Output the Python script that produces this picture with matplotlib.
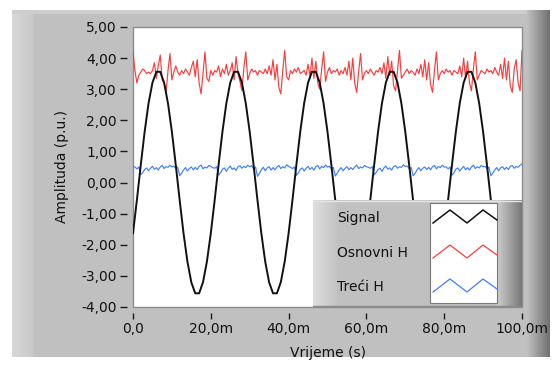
import numpy as np
import matplotlib
matplotlib.use("Agg")
import matplotlib.pyplot as plt
from matplotlib.patches import Rectangle

plt.rcParams['font.family'] = ['DejaVu Sans']

# ---- data -------------------------------------------------------------
# time axis in milliseconds
t_signal = np.arange(0, 101, 1.0)          # 1 ms sampling
t_harm = np.arange(0, 100.5, 0.5)          # 0.5 ms sampling

signal = [
    -1.63, -0.56, 0.57, 1.64, 2.55, 3.21, 3.56, 3.56, 3.21, 2.54,
    1.63, 0.56, -0.57, -1.64, -2.55, -3.21, -3.56, -3.56, -3.20, -2.54,
    -1.63, -0.56, 0.57, 1.64, 2.55, 3.21, 3.56, 3.56, 3.21, 2.54,
    1.63, 0.56, -0.57, -1.64, -2.55, -3.21, -3.56, -3.56, -3.20, -2.54,
    -1.63, -0.56, 0.57, 1.64, 2.55, 3.21, 3.56, 3.56, 3.21, 2.54,
    1.63, 0.56, -0.57, -1.64, -2.55, -3.21, -3.56, -3.56, -3.20, -2.54,
    -1.63, -0.56, 0.57, 1.64, 2.55, 3.21, 3.56, 3.56, 3.21, 2.54,
    1.63, 0.56, -0.57, -1.64, -2.55, -3.21, -3.56, -3.56, -3.20, -2.54,
    -1.63, -0.56, 0.57, 1.64, 2.55, 3.21, 3.56, 3.56, 3.21, 2.54,
    1.63, 0.56, -0.57, -1.64, -2.55, -3.21, -3.56, -3.56, -3.20, -2.54,
    -1.63,
]

osnovni_h = [
    4.20, 3.60, 3.20, 3.45, 3.55, 3.65, 3.60, 3.50, 3.55, 3.50,
    3.60, 3.85, 3.35, 3.75, 4.10, 3.30, 3.20, 2.90, 3.60, 4.15,
    3.30, 3.55, 3.75, 3.55, 3.45, 3.60, 3.50, 3.65, 3.55, 3.45,
    3.70, 3.90, 3.40, 3.95, 3.20, 2.85, 3.50, 4.20, 3.35, 3.25,
    3.60, 3.45, 3.60, 3.55, 3.75, 3.40, 3.65, 3.50, 3.80, 3.45,
    3.60, 3.85, 3.30, 4.05, 3.50, 3.25, 2.95, 3.70, 4.20, 3.30,
    3.50, 3.65, 3.55, 3.60, 3.45, 3.60, 3.55, 3.50, 3.65, 3.50,
    3.75, 3.45, 3.95, 3.30, 3.80, 3.05, 2.85, 3.60, 4.25, 3.40,
    3.30, 3.60, 3.50, 3.65, 3.55, 3.70, 3.50, 3.55, 3.60, 3.45,
    3.80, 3.40, 4.00, 3.35, 3.90, 3.20, 3.00, 3.65, 4.20, 3.25,
    3.55, 3.70, 3.50, 3.60, 3.55, 3.65, 3.45, 3.60, 3.50, 3.70,
    3.45, 3.90, 3.30, 4.00, 3.20, 2.90, 3.55, 4.15, 3.30, 3.50,
    3.60, 3.50, 3.65, 3.55, 3.45, 3.60, 3.55, 3.70, 3.50, 3.85,
    3.35, 4.05, 3.45, 3.90, 3.10, 2.95, 3.60, 4.25, 3.35, 3.45,
    3.55, 3.65, 3.50, 3.60, 3.55, 3.45, 3.65, 3.50, 3.80, 3.40,
    3.95, 3.30, 3.85, 3.15, 2.90, 3.60, 4.20, 3.30, 3.50, 3.60,
    3.50, 3.65, 3.55, 3.60, 3.45, 3.60, 3.55, 3.50, 3.75, 3.40,
    4.00, 3.35, 3.90, 3.20, 2.95, 3.65, 4.20, 3.30, 3.45, 3.60,
    3.55, 3.50, 3.65, 3.55, 3.60, 3.50, 3.70, 3.55, 3.45, 3.80,
    3.35, 4.00, 3.30, 3.90, 3.10, 2.90, 3.65, 3.95, 3.20, 2.95,
    4.25,
]

treci_h = [
    0.52, 0.50, 0.44, 0.50, 0.26, 0.32, 0.42, 0.47, 0.38, 0.46,
    0.52, 0.43, 0.48, 0.40, 0.50, 0.55, 0.45, 0.51, 0.49, 0.56,
    0.50, 0.53, 0.45, 0.49, 0.22, 0.30, 0.40, 0.48, 0.37, 0.45,
    0.50, 0.41, 0.49, 0.42, 0.52, 0.56, 0.44, 0.50, 0.47, 0.55,
    0.52, 0.48, 0.46, 0.51, 0.24, 0.31, 0.43, 0.47, 0.36, 0.46,
    0.53, 0.42, 0.47, 0.39, 0.51, 0.54, 0.46, 0.52, 0.48, 0.56,
    0.51, 0.54, 0.44, 0.50, 0.20, 0.29, 0.41, 0.49, 0.38, 0.47,
    0.51, 0.40, 0.48, 0.41, 0.50, 0.55, 0.45, 0.51, 0.47, 0.57,
    0.52, 0.49, 0.45, 0.50, 0.23, 0.31, 0.42, 0.47, 0.37, 0.46,
    0.52, 0.42, 0.49, 0.40, 0.51, 0.55, 0.44, 0.52, 0.48, 0.56,
    0.50, 0.52, 0.44, 0.49, 0.21, 0.30, 0.41, 0.48, 0.38, 0.45,
    0.51, 0.41, 0.48, 0.42, 0.50, 0.56, 0.45, 0.50, 0.47, 0.55,
    0.51, 0.49, 0.46, 0.51, 0.25, 0.32, 0.42, 0.46, 0.36, 0.47,
    0.53, 0.43, 0.47, 0.40, 0.52, 0.54, 0.46, 0.51, 0.49, 0.57,
    0.52, 0.53, 0.45, 0.48, 0.22, 0.29, 0.40, 0.48, 0.38, 0.46,
    0.50, 0.42, 0.49, 0.41, 0.51, 0.55, 0.44, 0.52, 0.48, 0.56,
    0.50, 0.50, 0.44, 0.50, 0.24, 0.31, 0.43, 0.47, 0.37, 0.45,
    0.52, 0.41, 0.48, 0.40, 0.50, 0.56, 0.45, 0.51, 0.47, 0.55,
    0.51, 0.52, 0.45, 0.49, 0.22, 0.30, 0.41, 0.48, 0.38, 0.47,
    0.51, 0.42, 0.49, 0.42, 0.52, 0.55, 0.46, 0.52, 0.49, 0.56,
    0.60,
]

series_names = ["Signal", "Osnovni H", "Treći H"]
series_colors = ["#111111", "#ff3b3b", "#3f7fff"]

x_ticks = [0, 20, 40, 60, 80, 100]
x_tick_labels = ["0,0", "20,0m", "40,0m", "60,0m", "80,0m", "100,0m"]
y_ticks = [-4, -3, -2, -1, 0, 1, 2, 3, 4, 5]
y_tick_labels = ["-4,00", "-3,00", "-2,00", "-1,00", "0,00",
                 "1,00", "2,00", "3,00", "4,00", "5,00"]

# ---- helpers ----------------------------------------------------------
def hgrad(axis, x0, x1, y0, y1, c0, c1):
    """Horizontal grey ramp from level c0 to c1 (0..255) in pixel coords."""
    ramp = np.linspace(c0, c1, 64) / 255.0
    img = np.repeat(ramp[None, :, None], 3, axis=2)
    axis.imshow(img, extent=(x0, x1, y1, y0), aspect="auto",
                interpolation="bilinear", zorder=1)

# ---- figure -----------------------------------------------------------
W, H = 557, 367
fig = plt.figure(figsize=(W / 100, H / 100), dpi=100, facecolor="white")

PANEL = "#c0c0c0"

# panel background drawn in pixel coordinates
bg = fig.add_axes([0, 0, 1, 1], zorder=0)
bg.axis("off")
bg.add_patch(Rectangle((12, 10), 538, 347, color=PANEL, lw=0, zorder=0))
hgrad(bg, 12, 34, 10, 357, 216, 200)
hgrad(bg, 527, 550, 10, 357, 192, 112)
bg.add_patch(Rectangle((12, 10), 515, 4, color="#cdcdcd", lw=0, zorder=2))
bg.set_xlim(0, W)
bg.set_ylim(H, 0)

# plot area
L, R, T, B = 133, 522, 27, 307
ax = fig.add_axes([L / W, 1 - B / H, (R - L) / W, (B - T) / H], zorder=1)
ax.set_facecolor("white")
ax.patch.set_edgecolor("#8c8c8c")
ax.patch.set_linewidth(1.0)
for s in ax.spines.values():
    s.set_visible(False)
ax.spines["left"].set_position(("outward", 4))
ax.spines["bottom"].set_position(("outward", 4))

ax.plot(t_signal, signal, color=series_colors[0], lw=1.4, zorder=3)
ax.plot(t_harm, osnovni_h, color=series_colors[1], lw=0.85, zorder=2)
ax.plot(t_harm, treci_h, color=series_colors[2], lw=0.85, zorder=2)

ax.set_xlim(0, 100)
ax.set_ylim(-4, 5)
ax.set_xticks(x_ticks)
ax.set_xticklabels(x_tick_labels)
ax.set_yticks(y_ticks)
ax.set_yticklabels(y_tick_labels)
ax.tick_params(axis="y", direction="out", length=5, width=1,
               color="#1a1a1a", pad=2.5, labelsize=10, labelcolor="#111111")
ax.tick_params(axis="x", direction="out", length=4, width=1,
               color="#1a1a1a", pad=3, labelsize=10, labelcolor="#111111")

fig.text(62 / W, 1 - 167 / H, "Amplituda (p.u.)", rotation=90,
         ha="center", va="center", fontsize=10, color="#111111")
fig.text(((L + R) / 2) / W, 1 - 353 / H, "Vrijeme (s)",
         ha="center", va="center", fontsize=10, color="#111111")

# legend panel in pixel coordinates
LL, LR, LT, LB = 313, 522, 200, 307
lg = fig.add_axes([LL / W, 1 - LB / H, (LR - LL) / W, (LB - LT) / H], zorder=5)
lg.axis("off")
lg.add_patch(Rectangle((LL, LT), LR - LL, LB - LT, color=PANEL, lw=0, zorder=0))
hgrad(lg, LL, LL + 24, LT, LB, 222, 196)
hgrad(lg, 497, LR, LT, LB, 205, 120)
lg.add_patch(Rectangle((430, 203), 67, 100, facecolor="white",
                       edgecolor="#7a7a7a", lw=0.8, zorder=2))
lg.plot([LL, LR], [LT + 0.5, LT + 0.5], color="#e6e6e6", lw=1, zorder=2)
lg.plot([LL, LR], [LB - 1, LB - 1], color="#8a8a8a", lw=1, zorder=2)

row_y = [217, 252, 286]
zig_x = [433, 450, 467, 483, 497]
zig_dy = [6, -7, 6, -7, 3]
for name, col, yc in zip(series_names, series_colors, row_y):
    lg.text(337, yc + 1, name, ha="left", va="center", fontsize=10,
            color="#111111", zorder=3)
    lg.plot(zig_x, [yc + d for d in zig_dy], color=col, zorder=3,
            lw=1.1 if col == series_colors[0] else 0.9)
lg.set_xlim(LL, LR)
lg.set_ylim(LB, LT)

fig.savefig("out.png", dpi=100, facecolor="white")
